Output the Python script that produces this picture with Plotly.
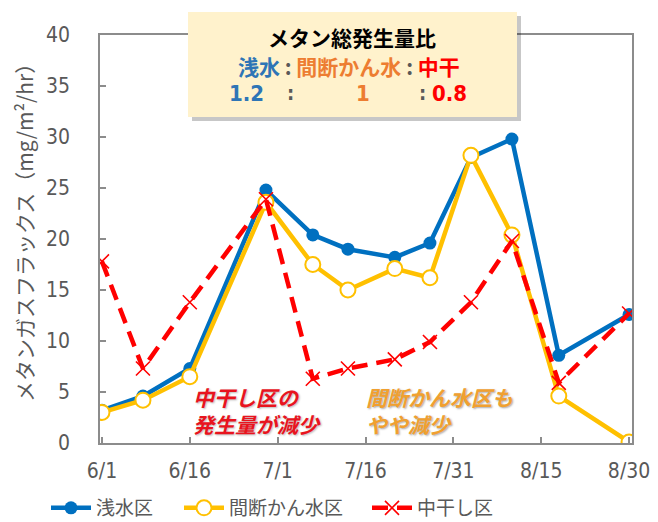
import plotly.graph_objects as go

# ---- data ----
dates = ["2023-06-01", "2023-06-08", "2023-06-16", "2023-06-29", "2023-07-07", "2023-07-13",
         "2023-07-21", "2023-07-27", "2023-08-03", "2023-08-10", "2023-08-18", "2023-08-30"]
shallow = [3.2, 4.6, 7.3, 24.8, 20.4, 19.0, 18.2, 19.6, 28.0, 29.8, 8.6, 12.6]
intermittent = [3.0, 4.2, 6.5, 23.6, 17.5, 15.0, 17.1, 16.2, 28.2, 20.4, 4.6, 0.1]
midseason = [17.8, 7.3, 13.8, 23.9, 6.3, 7.3, 8.2, 9.9, 13.8, 19.8, 5.9, 12.7]
series_names = ["浅水区", "間断かん水区", "中干し区"]
tick_dates = ["2023-06-01", "2023-06-16", "2023-07-01", "2023-07-16", "2023-07-31", "2023-08-15", "2023-08-30"]
tick_labels = ["6/1", "6/16", "7/1", "7/16", "7/31", "8/15", "8/30"]

BLUE = "#0070C0"
YEL = "#FFC000"
RED = "#FF0000"
GRAY = "#595959"
AX = "#8C8C8C"
JP = "Noto Sans CJK JP, sans-serif"
NARROW = "Liberation Sans Narrow, DejaVu Sans Condensed, Roboto, sans-serif"

W, H = 658, 522
L, R, T, B = 100, 632, 35, 443


def px(x):
    return (x - L) / (R - L)


def py(y):
    return (B - y) / (B - T)


fig = go.Figure()
fig.add_trace(go.Scatter(x=dates, y=shallow, name=series_names[0], mode="lines+markers",
                         legend="legend",
                         line=dict(color=BLUE, width=4.5),
                         marker=dict(symbol="circle", size=13, color=BLUE)))
fig.add_trace(go.Scatter(x=dates, y=intermittent, name=series_names[1], mode="lines+markers",
                         legend="legend2",
                         line=dict(color=YEL, width=4.5),
                         marker=dict(symbol="circle", size=15, color="white",
                                     line=dict(color=YEL, width=2))))
fig.add_trace(go.Scatter(x=dates, y=midseason, name=series_names[2], mode="lines+markers",
                         legend="legend3",
                         line=dict(color=RED, width=4.5, dash="16px,9px"),
                         marker=dict(symbol="x-thin-open", size=14, color=RED,
                                     line=dict(color=RED, width=1.6))))

axis_common = dict(showline=True, linecolor=AX, linewidth=1.5, mirror=True, ticks="inside",
                   ticklen=6, tickcolor=AX, tickwidth=1.5, showgrid=False, zeroline=False,
                   tickfont=dict(family=NARROW, size=21, color=GRAY))

fig.update_xaxes(type="date", range=["2023-05-31 16:00", "2023-08-30 12:00"],
                 tickvals=tick_dates, ticktext=tick_labels, ticklabelstandoff=8, **axis_common)
fig.update_yaxes(range=[0, 40], dtick=5, ticklabelstandoff=24, **axis_common)

shapes = []
# box shadow + box
bx0, bx1, by0, by1 = 188, 517, 12, 117
shapes.append(dict(type="rect", xref="paper", yref="paper", x0=px(bx0 + 4), x1=px(bx1 + 4),
                   y0=py(by0 + 4), y1=py(by1 + 4), fillcolor="rgba(0,0,0,0.22)",
                   line=dict(width=0), layer="above"))
shapes.append(dict(type="rect", xref="paper", yref="paper", x0=px(bx0), x1=px(bx1),
                   y0=py(by0), y1=py(by1), fillcolor="#FFF2CC",
                   line=dict(width=0), layer="above"))

ann = []


def A(text, x, y, size, color, family=JP, xanchor="center", bold=True, **kw):
    t = f"<b>{text}</b>" if bold else text
    ann.append(dict(text=t, x=px(x), y=py(y), xref="paper", yref="paper", showarrow=False,
                    xanchor=xanchor, yanchor="middle",
                    font=dict(family=family, size=size, color=color), **kw))


A("メタン総発生量比", 352, 37, 21, "#000000")
A(f"<span style='color:#2E75B6'>浅水</span><span style='color:{GRAY}'> : </span>"
  f"<span style='color:#ED7D31'>間断かん水</span><span style='color:{GRAY}'> : </span>"
  f"<span style='color:{RED}'>中干</span>", 349, 66, 21, GRAY)
A("1.2", 246, 93, 22, "#2E75B6", family=NARROW)
A(":", 290, 93, 20, GRAY, family=NARROW)
A("1", 363, 93, 22, "#ED7D31", family=NARROW)
A(":", 422, 93, 20, GRAY, family=NARROW)
A("0.8", 449, 93, 22, RED, family=NARROW)

# callouts
ann.append(dict(text="<b><i>中干し区の<br>発生量が減少</i></b>", x=px(191), y=py(410), xref="paper",
                yref="paper", showarrow=False, xanchor="left", yanchor="middle", align="left",
                font=dict(family=JP, size=21, color="#E8141E", shadow="1px 1px 2px #bbbbbb")))
ann.append(dict(text="<b><i>間断かん水区も<br>やや減少</i></b>", x=px(364), y=py(410), xref="paper",
                yref="paper", showarrow=False, xanchor="left", yanchor="middle", align="left",
                font=dict(family=JP, size=21, color="#F0A030", shadow="1px 1px 2px #aaaaaa")))

# y axis title
ann.append(dict(text="メタンガスフラックス（mg/m²/hr）", x=px(24), y=py(228), xref="paper",
                yref="paper", showarrow=False, textangle=-90, xanchor="center", yanchor="middle",
                font=dict(family=JP, size=21, color=GRAY)))

leg_common = dict(orientation="h", xanchor="left", y=py(508), yanchor="middle",
                  font=dict(family=JP, size=19, color=GRAY), bgcolor="rgba(0,0,0,0)",
                  itemwidth=40)

fig.update_layout(
    width=W, height=H, margin=dict(l=L, r=W - R, t=T, b=H - B, autoexpand=False),
    paper_bgcolor="white", plot_bgcolor="white",
    shapes=shapes, annotations=ann,
    legend=dict(x=px(46), **leg_common),
    legend2=dict(x=px(179), **leg_common),
    legend3=dict(x=px(367), **leg_common),
    showlegend=True,
)

fig.write_html("out.html")
